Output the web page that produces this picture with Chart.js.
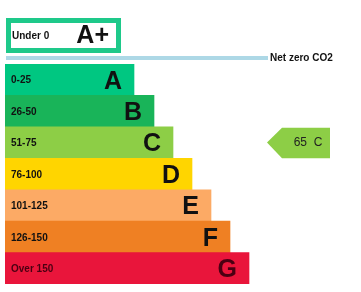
<!DOCTYPE html>
<html>
<head>
<meta charset="utf-8">
<script src="https://cdn.jsdelivr.net/npm/chart.js@4.4.1/dist/chart.umd.min.js"></script>
<style>
html,body{margin:0;padding:0;background:#fff;}
#wrap{width:361px;height:292px;}
</style>
</head>
<body>
<div id="wrap"><canvas id="epcChart" width="361" height="292"></canvas></div>
<script>
// EPC style bands
const bands = ["A", "B", "C", "D", "E", "F", "G"];
const ranges = ["0-25", "26-50", "51-75", "76-100", "101-125", "126-150", "Over 150"];
const barLengths = [129, 149, 168, 187, 206, 225, 244];
const bandColors = ["#00c781", "#19b459", "#8dce46", "#ffd500", "#fcaa65", "#ef8023", "#e9153b"];

// top "A+" band
const topBand = "A+";
const topRange = "Under 0";
const topLength = 115;
const topColor = "#1ec98a";

// current rating
const currentScore = 65;
const currentBand = "C";
const netZeroLabel = "Net zero CO2";

const FONT = "'Liberation Sans', Arial, sans-serif";

const epcPlugin = {
id: "epc",
afterDatasetsDraw(chart) {
const ctx = chart.ctx;
const x = chart.scales.x;
const y = chart.scales.y;
const area = chart.chartArea;
const rowH = (area.bottom - area.top) / bands.length;
const x0 = x.getPixelForValue(0);

ctx.save();

// labels inside bars
bands.forEach(function (b, i) {
const cy = y.getPixelForValue(i);
const txt = i === bands.length - 1 ? "#4a0012" : "#111";
ctx.fillStyle = txt;
ctx.textBaseline = "middle";
ctx.textAlign = "left";
ctx.font = "bold 10px " + FONT;
ctx.fillText(ranges[i], x0 + 6, cy + 1);
ctx.textAlign = "right";
ctx.font = "bold 25px " + FONT;
ctx.fillText(b, x.getPixelForValue(barLengths[i]) - 12, cy + 2);
});

// A+ box
const boxTop = area.top - 46;
const boxH = 35;
const bw = 5;
ctx.strokeStyle = topColor;
ctx.lineWidth = bw;
ctx.strokeRect(x0 + 1 + bw / 2, boxTop + bw / 2, x.getPixelForValue(topLength) - x0 - bw, boxH - bw);
ctx.fillStyle = "#111";
ctx.textBaseline = "middle";
ctx.textAlign = "left";
ctx.font = "bold 10px " + FONT;
ctx.fillText(topRange, x0 + 7, boxTop + boxH / 2 + 1);
ctx.textAlign = "right";
ctx.font = "bold 25px " + FONT;
ctx.fillText(topBand, x.getPixelForValue(topLength) - 11, boxTop + boxH / 2 + 1);

// net zero line
ctx.fillStyle = "#add8e6";
ctx.fillRect(x0 + 1, area.top - 8, 262, 4);
ctx.fillStyle = "#111";
ctx.textAlign = "left";
ctx.font = "bold 10px " + FONT;
ctx.fillText(netZeroLabel, x0 + 265, area.top - 6);

// current rating arrow
const ci = bands.indexOf(currentBand);
const cy = y.getPixelForValue(ci);
const top = cy - rowH / 2 + 1;
const bot = cy + rowH / 2;
const right = area.right - 31;
const left = right - 63;
const neck = left + 15;
ctx.fillStyle = bandColors[ci];
ctx.beginPath();
ctx.moveTo(left, cy);
ctx.lineTo(neck, top);
ctx.lineTo(right, top);
ctx.lineTo(right, bot);
ctx.lineTo(neck, bot);
ctx.closePath();
ctx.fill();
ctx.fillStyle = "#222";
ctx.textAlign = "center";
ctx.font = "12px " + FONT;
ctx.fillText(currentScore + "  " + currentBand, (neck + right) / 2 + 2, cy);

ctx.restore();
}
};

new Chart(
document.getElementById("epcChart"),
{
type: "bar",
data: {
labels: bands,
datasets: [{
data: barLengths,
backgroundColor: bandColors,
borderWidth: 0,
barPercentage: 1,
categoryPercentage: 1
}]
},
options: {
indexAxis: "y",
responsive: false,
animation: false,
layout: {
padding: { left: 5, right: 0, top: 64, bottom: 8 }
},
plugins: {
legend: { display: false },
tooltip: { enabled: false }
},
scales: {
x: { display: false, min: 0, max: 356 },
y: { display: false }
}
},
plugins: [epcPlugin]
}
);
</script>
</body>
</html>
